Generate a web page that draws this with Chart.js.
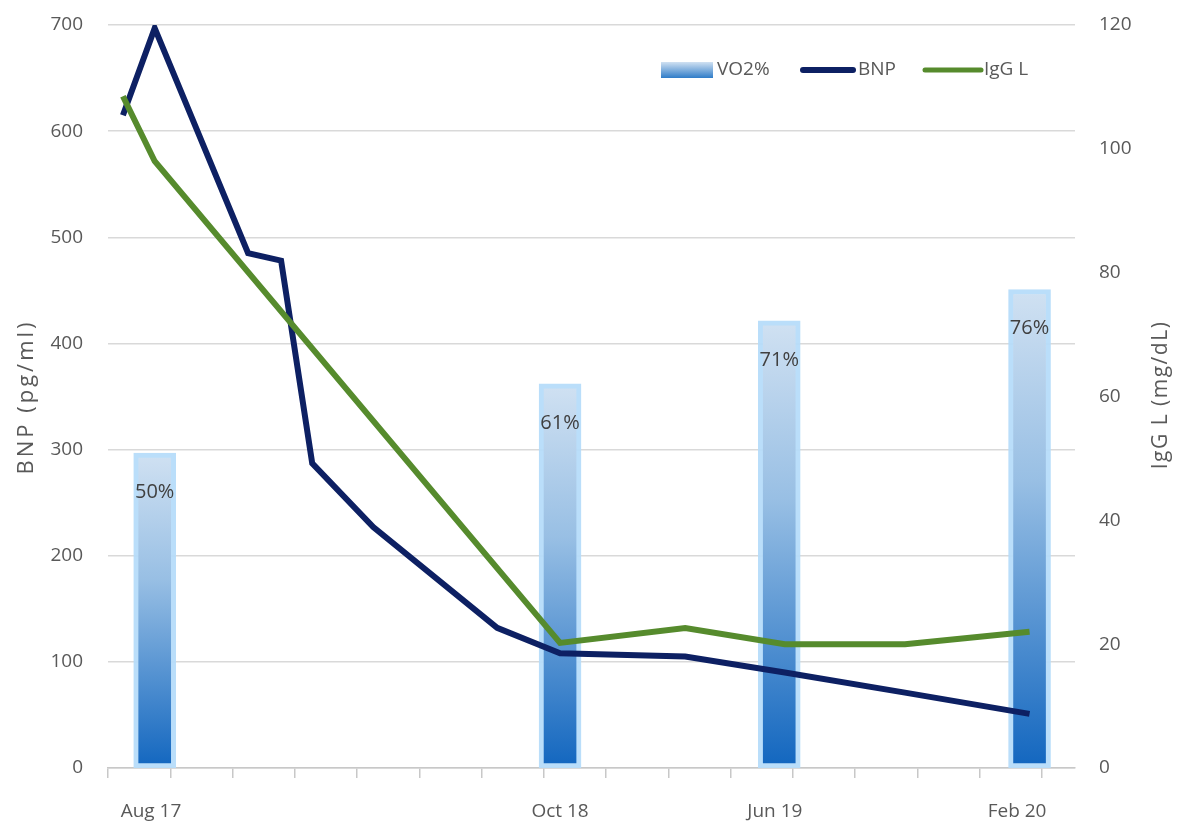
<!DOCTYPE html>
<html>
<head>
<meta charset="utf-8">
<title>VO2%, BNP, IgG L</title>
<script src="https://cdn.jsdelivr.net/npm/chart.js@4.4.1/dist/chart.umd.min.js"></script>
<style>
  html, body { margin: 0; padding: 0; background: #fff; }
  #wrap { width: 1179px; height: 826px; }
</style>
</head>
<body>
<div id="wrap"><canvas id="myChart" width="1179" height="826"></canvas></div>
<script>
// x positions are in date-axis units (one unit per tick mark)
const dateLabels = ['Aug 17', 'Oct 18', 'Jun 19', 'Feb 20'];
const labelPos = [0.69, 7.26, 10.71, 14.6];
const tickMarks = [0, 1, 2, 3, 4, 5, 6, 7, 8, 9, 10, 11, 12, 13, 14, 15];

const vo2X = [0.75, 7.26, 10.78, 14.8];
const vo2 = [50, 61, 71, 76];

const bnpX = [0.24, 0.75, 2.25, 2.78, 3.28, 4.26, 6.25, 7.26, 9.27, 10.87, 12.8, 14.8];
const bnp = [615, 697, 485, 478, 287, 227, 132, 108, 105, 90, 71, 51];

const iggX = [0.24, 0.75, 7.26, 9.27, 10.87, 12.8, 14.8];
const igg = [108.5, 98, 20.2, 22.6, 20, 20, 22];

const xMax = 15.53;
const gray = '#595959';
const navy = '#0d2063';
const green = '#568b2d';
const tickFont = { family: '"Open Sans", sans-serif', size: 19 };

function barFill(context) {
  const chart = context.chart;
  const area = chart.chartArea;
  if (!area || !context.raw) return '#7fb0e0';
  const top = chart.scales.y2.getPixelForValue(context.raw.y);
  const g = chart.ctx.createLinearGradient(0, top, 0, area.bottom);
  g.addColorStop(0, '#d0e1f2');
  g.addColorStop(0.4, '#98bfe4');
  g.addColorStop(1, '#1266bf');
  return g;
}

// keep the tick padding from pushing the plot area down
function fixYPad(s, width) {
  s.width = width;
  s.paddingTop = 0;
  s.paddingBottom = 0;
}

const extras = {
  id: 'extras',
  afterDatasetsDraw(chart) {
    const ctx = chart.ctx;
    const meta = chart.getDatasetMeta(0);
    ctx.save();
    ctx.font = '20px "Open Sans"';
    ctx.fillStyle = '#404040';
    ctx.textAlign = 'center';
    ctx.textBaseline = 'middle';
    meta.data.forEach((bar, i) => {
      ctx.fillText(vo2[i] + '%', bar.x, bar.y + 39);
    });
    ctx.restore();
  },
  afterDraw(chart) {
    const ctx = chart.ctx;
    ctx.save();
    // legend
    const g = ctx.createLinearGradient(0, 62, 0, 78);
    g.addColorStop(0, '#d0e1f2');
    g.addColorStop(1, '#2f7cc8');
    ctx.fillStyle = g;
    ctx.fillRect(661, 62, 52, 16);
    ctx.lineCap = 'round';
    ctx.strokeStyle = navy;
    ctx.lineWidth = 6;
    ctx.beginPath(); ctx.moveTo(803, 70); ctx.lineTo(853, 70); ctx.stroke();
    ctx.strokeStyle = green;
    ctx.lineWidth = 5;
    ctx.beginPath(); ctx.moveTo(925, 70); ctx.lineTo(981, 70); ctx.stroke();
    ctx.fillStyle = gray;
    ctx.font = '19px "Open Sans"';
    ctx.textBaseline = 'middle';
    ctx.textAlign = 'left';
    ctx.fillText('VO2%', 717, 70);
    ctx.fillText('BNP', 858, 70);
    ctx.fillText('IgG L', 984, 70);
    // axis titles
    ctx.textAlign = 'center';
    ctx.save();
    ctx.font = '22px "Open Sans"';
    ctx.translate(27, 397);
    ctx.rotate(-Math.PI / 2);
    ctx.letterSpacing = '3px';
    ctx.fillText('BNP (pg/ml)', 0, 0);
    ctx.restore();
    ctx.save();
    ctx.font = '21px "Open Sans"';
    ctx.translate(1161, 395);
    ctx.rotate(-Math.PI / 2);
    ctx.letterSpacing = '1.5px';
    ctx.fillText('IgG L (mg/dL)', 0, 0);
    ctx.restore();
    ctx.restore();
  }
};

const ctx = document.getElementById('myChart').getContext('2d');
const chart = new Chart(ctx, {
  data: {
    datasets: [
      {
        type: 'bar',
        label: 'VO2%',
        data: vo2X.map((x, i) => ({ x: x, y: vo2[i] })),
        yAxisID: 'y2',
        xAxisID: 'x',
        backgroundColor: barFill,
        borderColor: 'rgba(182, 220, 250, 0.95)',
        borderWidth: 5,
        borderSkipped: false,
        barThickness: 42,
        order: 3
      },
      {
        type: 'line',
        label: 'BNP',
        data: bnpX.map((x, i) => ({ x: x, y: bnp[i] })),
        yAxisID: 'y',
        xAxisID: 'x',
        borderColor: navy,
        borderWidth: 6,
        pointRadius: 0,
        tension: 0,
        order: 2
      },
      {
        type: 'line',
        label: 'IgG L',
        data: iggX.map((x, i) => ({ x: x, y: igg[i] })),
        yAxisID: 'y1',
        xAxisID: 'x',
        borderColor: green,
        borderWidth: 6,
        pointRadius: 0,
        tension: 0,
        order: 1
      }
    ]
  },
  options: {
    responsive: false,
    animation: false,
    layout: { padding: { top: 25, left: 0, right: 0, bottom: 0 } },
    plugins: {
      legend: { display: false },
      tooltip: { enabled: false }
    },
    scales: {
      x: {
        type: 'linear',
        position: 'bottom',
        weight: 0,
        offset: false,
        min: 0,
        max: xMax,
        afterBuildTicks: s => { s.ticks = tickMarks.map(v => ({ value: v })); },
        ticks: { display: false },
        grid: { offset: false, drawOnChartArea: false, drawTicks: true, tickLength: 10, color: '#c8c8c8', lineWidth: 1.5 },
        border: { display: true, color: '#c8c8c8', width: 1.5 },
        afterFit: s => { s.height = 12; }
      },
      x2: {
        type: 'linear',
        position: 'bottom',
        weight: 1,
        offset: false,
        min: 0,
        max: xMax,
        afterBuildTicks: s => { s.ticks = labelPos.map(v => ({ value: v })); },
        ticks: {
          callback: (v, i) => dateLabels[i],
          color: gray,
          font: tickFont,
          padding: 20,
          maxRotation: 0,
          autoSkip: false
        },
        grid: { display: false, drawTicks: false },
        border: { display: false },
        afterFit: s => { s.height = 46; }
      },
      y: {
        position: 'left',
        min: 0,
        max: 700,
        ticks: { stepSize: 100, padding: 25, color: gray, font: tickFont },
        grid: { color: '#d9d9d9', lineWidth: 1.5, drawTicks: false },
        border: { display: false },
        afterFit: s => fixYPad(s, 108)
      },
      y1: {
        position: 'right',
        min: 0,
        max: 120,
        ticks: { stepSize: 20, padding: 24, color: gray, font: tickFont },
        grid: { drawOnChartArea: false, drawTicks: false },
        border: { display: false },
        afterFit: s => fixYPad(s, 104)
      },
      y2: {
        display: false,
        min: 0,
        max: 118
      }
    }
  },
  plugins: [extras]
});
</script>
</body>
</html>
